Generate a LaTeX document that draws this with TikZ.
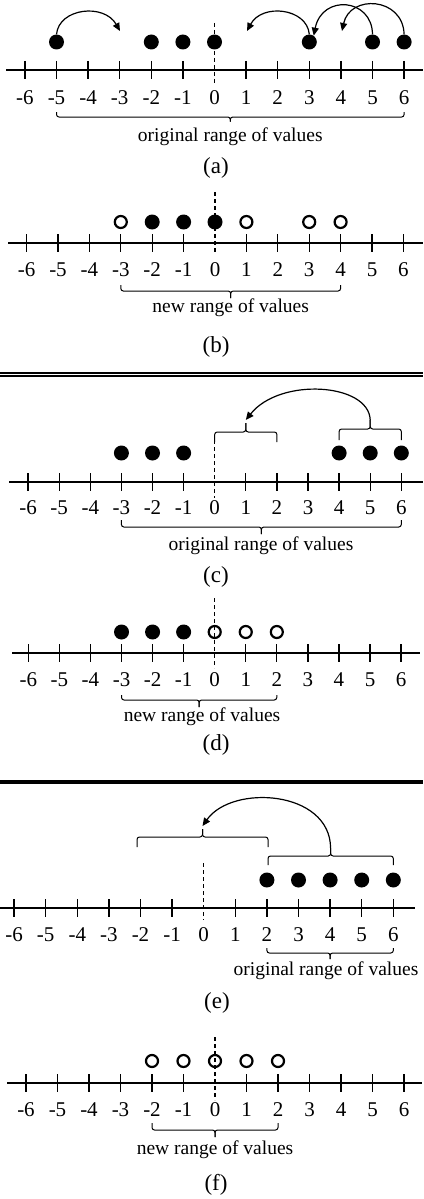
\documentclass[tikz,border=0pt]{standalone}
\usepackage{fontspec}
\setmainfont{Liberation Serif}
\usetikzlibrary{arrows.meta}

% Number line: #1 origin x, #2 unit step, #3 axis y, #4 left end, #5 right end, #6 label y, #7 name prefix
\newcommand\drawaxis[7]{%
  \draw[axisline] (#4,#3) -- (#5,#3);
  \foreach \k in {-6,...,6}{%
    \coordinate (#7\k) at ({#1+#2*\k},#3);
    \ifnum\k=0\relax\else
      \draw[axisline] ({#1+#2*\k},{#3-9}) -- ({#1+#2*\k},{#3+9});
    \fi
    \node[numlabel] (#7lab\k) at ({#1+#2*\k},#6) {\k};
  }%
}
% Curly range bracket: #1 left x, #2 right x, #3 end y, #4 bar y, #5 tip y
\newcommand\rangebrace[5]{%
  \draw[bracket] (#1,#3) -- (#1,#4) -- ({(#1+#2)/2},#4) -- ({(#1+#2)/2},#5);
  \draw[bracket] (#2,#3) -- (#2,#4) -- ({(#1+#2)/2},#4) -- ({(#1+#2)/2},#5);
}

\begin{document}
\begin{tikzpicture}[x=1pt,y=-1pt,
  axisline/.style={line width=1.3pt},
  zeroline/.style={line width=1.3pt, dash pattern=on 4pt off 3pt},
  fdot/.style={circle, fill=black, minimum size=15pt, inner sep=0pt},
  odot/.style={circle, draw=black, line width=2.2pt, minimum size=12pt, inner sep=0pt},
  numlabel/.style={font=\fontsize{21}{22}\selectfont, inner sep=0pt},
  txt/.style={font=\fontsize{19.5}{20}\selectfont, inner sep=0pt, anchor=base},
  panellabel/.style={font=\fontsize{23}{24}\selectfont, inner sep=0pt},
  bracket/.style={line width=1pt, rounded corners=2.5pt},
  arr/.style={line width=1.2pt, -{Triangle[length=8pt,width=7pt]}}
]
\useasboundingbox (0,0) rectangle (423,1199);

% ---------------- (a) ----------------
\draw[zeroline] (214.5,23) -- (214.5,84);
\drawaxis{214.5}{31.6}{70}{6}{423}{98}{a}
\foreach \k in {-5,-2,-1,0,3,5,6}
  \node[fdot] (adot\k) at ({214.5+31.6*\k},42) {};
\coordinate (a-t1) at (120,31);
\coordinate (a-t2) at (247,31);
\coordinate (a-t4) at (342,31);
\draw[arr] (adot-5.north) .. controls (59,8) and (104,3) .. (a-t1);
\draw[arr] (adot3.north) .. controls (307,8) and (262,3) .. (a-t2);
\draw[arr] (adot5.north) .. controls (372,-2) and (322,-6) .. (adot3.55);
\draw[arr] (adot6.north) .. controls (403,-3) and (350,-6) .. (a-t4);
\rangebrace{56.5}{404.1}{112}{117}{121.5}
\node[txt] (a-range) at (230.3,141) {original range of values};
\node[panellabel] (a-cap) at (216,168) {(a)};

% ---------------- (b) ----------------
\draw[zeroline] (215,192) -- (215,254);
\drawaxis{215}{31.4}{243}{8}{423}{270}{b}
\foreach \k in {-2,-1,0}
  \node[fdot] (bdot\k) at ({215+31.4*\k},222) {};
\foreach \k in {-3,1,3,4}
  \node[odot] (bdot\k) at ({215+31.4*\k},222) {};
\rangebrace{120.8}{340.6}{285}{291}{298}
\node[txt] (b-range) at (230.7,312) {new range of values};
\node[panellabel] (b-cap) at (216,347) {(b)};

% double rule
\draw[line width=2.3pt] (0,373.1) -- (423,373.1);
\draw[line width=1.6pt] (0,375.9) -- (423,375.9);

% ---------------- (c) ----------------
\draw[zeroline] (214.7,440) -- (214.7,498);
\drawaxis{214.7}{31.1}{482}{9}{423}{508}{c}
\foreach \k in {-3,-2,-1,4,5,6}
  \node[fdot] (cdot\k) at ({214.7+31.1*\k},453) {};
\rangebrace{214.7}{276.9}{442}{432}{423}
\rangebrace{339.1}{401.3}{440}{429}{420}
\coordinate (c-src) at (370.2,420);
\coordinate (c-dst) at (245.8,420);
\draw[arr] (c-src) .. controls (369,383) and (280,377) .. (c-dst);
\rangebrace{121.4}{401.3}{520}{527}{534}
\node[txt] (c-range) at (261,550) {original range of values};
\node[panellabel] (c-cap) at (216,577) {(c)};

% ---------------- (d) ----------------
\draw[zeroline] (214.7,598) -- (214.7,668);
\drawaxis{214.7}{31.06}{653}{12}{420}{680}{d}
\foreach \k in {-3,-2,-1}
  \node[fdot] (ddot\k) at ({214.7+31.06*\k},632) {};
\foreach \k in {0,1,2}
  \node[odot] (ddot\k) at ({214.7+31.06*\k},632) {};
\rangebrace{121.5}{276.8}{695}{700}{707}
\node[txt] (d-range) at (202,721) {new range of values};
\node[panellabel] (d-cap) at (216,745) {(d)};

% heavy rule
\draw[line width=4pt] (0,782) -- (423,782);

% ---------------- (e) ----------------
\draw[zeroline] (203.7,863) -- (203.7,920);
\drawaxis{203.7}{31.6}{908}{0}{415}{935}{e}
\foreach \k in {2,...,6}
  \node[fdot] (edot\k) at ({203.7+31.6*\k},880) {};
\rangebrace{137}{268}{847}{837}{829}
\rangebrace{268}{393.3}{865}{856}{848}
\coordinate (e-src) at (330.6,848);
\coordinate (e-dst) at (202.5,826);
\draw[arr] (e-src) .. controls (330,790) and (232,784) .. (e-dst);
\rangebrace{266.9}{393.3}{948}{953}{959}
\node[txt] (e-range) at (326,975) {original range of values};
\node[panellabel] (e-cap) at (217,1003) {(e)};

% ---------------- (f) ----------------
\draw[zeroline] (215,1037) -- (215,1100);
\drawaxis{215}{31.5}{1083}{7}{422}{1110}{f}
\foreach \k in {-2,...,2}
  \node[odot] (fdot\k) at ({215+31.5*\k},1061) {};
\rangebrace{152}{278}{1123}{1130}{1137}
\node[txt] (f-range) at (215,1154) {new range of values};
\node[panellabel] (f-cap) at (216,1185) {(f)};
\end{tikzpicture}
\end{document}
